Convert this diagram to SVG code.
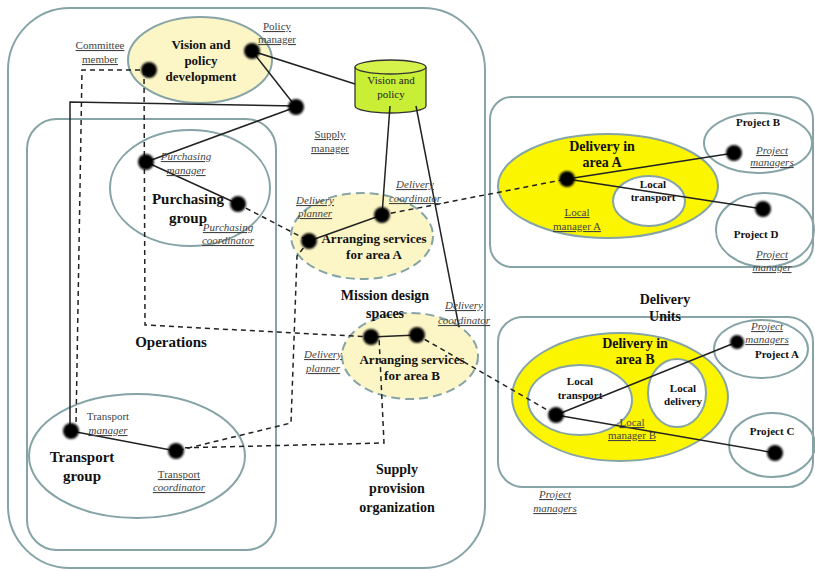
<svg xmlns="http://www.w3.org/2000/svg" width="815" height="571" viewBox="0 0 815 571">
<defs>
<filter id="glow" x="-50%" y="-50%" width="200%" height="200%"><feGaussianBlur stdDeviation="1.2"/></filter>
<style>
.ct{fill:none;stroke:#86a4a6;stroke-width:2}
.el{stroke:#86a4a6;stroke-width:2}
.ly{fill:#fcf6c6}
.by{fill:#fcf500}
.wh{fill:#fff}
.dsh{stroke-dasharray:9 5}
.ln{stroke:#222;stroke-width:1.5;fill:none}
.dl{stroke:#222;stroke-width:1.5;fill:none;stroke-dasharray:5 4}
.dot{fill:#000;filter:url(#glow)}
text{font-family:"Liberation Serif","Times New Roman",serif;text-anchor:middle}
.b{font-weight:bold;fill:#111}
.u{font-size:11px;fill:#444;text-decoration:underline}
.i{font-style:italic}
</style>
</defs>

<g id="containers">
<rect id="supply-provision" class="ct" x="8" y="8" width="477" height="560" rx="62"/>
<rect id="operations" class="ct" x="27" y="119" width="249" height="431" rx="30"/>
<rect id="delivery-units-a" class="ct" x="490" y="97" width="323" height="170" rx="22"/>
<rect id="delivery-units-b" class="ct" x="498" y="317" width="315" height="170" rx="25"/>
</g>

<g id="vision-policy-development">
<ellipse class="el ly" cx="200" cy="60" rx="72" ry="43"/>
<text class="b" font-size="13" x="201" y="49">Vision and</text>
<text class="b" font-size="13" x="201" y="65">policy</text>
<text class="b" font-size="13" x="201" y="81">development</text>
</g>

<g id="purchasing-group">
<ellipse class="el" fill="none" cx="190" cy="188" rx="80" ry="58"/>
<text class="b" font-size="15" x="188" y="204">Purchasing</text>
<text class="b" font-size="15" x="188" y="223">group</text>
</g>

<g id="transport-group">
<ellipse class="el" fill="none" cx="137" cy="456" rx="108" ry="62"/>
<text class="b" font-size="15" x="82" y="462">Transport</text>
<text class="b" font-size="15" x="82" y="481">group</text>
</g>

<g id="vision-policy-store">
<path d="M355,67 L355,106 A35.5,7 0 0 0 426,106 L426,67" fill="#c8ee36" stroke="#333" stroke-width="1.3"/>
<ellipse cx="390.5" cy="67" rx="35.5" ry="7" fill="#d4f24a" stroke="#333" stroke-width="1.3"/>
<text font-size="11" fill="#222" x="391" y="84">Vision and</text>
<text font-size="11" fill="#222" x="391" y="98">policy</text>
</g>

<g id="arranging-a">
<ellipse class="el ly dsh" cx="362" cy="236" rx="71" ry="43"/>
<text class="b" font-size="13" x="374" y="243">Arranging services</text>
<text class="b" font-size="13" x="374" y="259">for area A</text>
</g>

<g id="arranging-b">
<ellipse class="el ly dsh" cx="410" cy="356" rx="68" ry="43"/>
<text class="b" font-size="13" x="412" y="364">Arranging services</text>
<text class="b" font-size="13" x="412" y="380">for area B</text>
</g>

<g id="delivery-area-a">
<ellipse class="el by" cx="608" cy="186" rx="110" ry="52"/>
<text class="b" font-size="14" x="602" y="151">Delivery in</text>
<text class="b" font-size="14" x="602" y="167">area A</text>
<ellipse class="el wh" cx="649" cy="201" rx="36" ry="25"/>
<text class="b" font-size="11" x="653" y="188">Local</text>
<text class="b" font-size="11" x="653" y="201">transport</text>
</g>

<g id="project-b">
<ellipse class="el" fill="none" cx="758" cy="143" rx="54" ry="30"/>
<text class="b" font-size="11" x="758" y="126">Project B</text>
</g>
<g id="project-d">
<ellipse class="el" fill="none" cx="765" cy="230" rx="49" ry="37"/>
<text class="b" font-size="11" x="756" y="238">Project D</text>
</g>

<g id="delivery-area-b">
<ellipse class="el by" cx="620" cy="397" rx="108" ry="64"/>
<text class="b" font-size="14" x="635" y="348">Delivery in</text>
<text class="b" font-size="14" x="635" y="364">area B</text>
<ellipse class="el wh" cx="580" cy="400" rx="52" ry="35"/>
<text class="b" font-size="11" x="580" y="385">Local</text>
<text class="b" font-size="11" x="580" y="399">transport</text>
<ellipse class="el wh" cx="677" cy="393" rx="29" ry="34"/>
<text class="b" font-size="11" x="683" y="392">Local</text>
<text class="b" font-size="11" x="683" y="405">delivery</text>
</g>

<g id="project-a">
<ellipse class="el" fill="none" cx="761" cy="349" rx="47" ry="29"/>
<text class="b" font-size="11" x="777" y="358">Project A</text>
</g>
<g id="project-c">
<ellipse class="el" fill="none" cx="772" cy="445" rx="43" ry="32"/>
<text class="b" font-size="11" x="772" y="435">Project C</text>
</g>

<g id="connectors">
<line class="ln" x1="252" y1="51" x2="355" y2="84"/>
<line class="ln" x1="252" y1="51" x2="296" y2="107"/>
<line class="ln" x1="296" y1="107" x2="146" y2="162"/>
<polyline class="ln" points="296,106 70,102 70,431"/>
<line class="ln" x1="146" y1="162" x2="238" y2="204"/>
<line class="ln" x1="390" y1="106" x2="382" y2="215"/>
<line class="ln" x1="416" y1="106" x2="459" y2="327"/>
<line class="ln" x1="309" y1="241" x2="382" y2="215"/>
<line class="ln" x1="371" y1="337" x2="417" y2="335"/>
<line class="ln" x1="71" y1="431" x2="176" y2="451"/>
<line class="ln" x1="567" y1="179" x2="734" y2="153"/>
<line class="ln" x1="567" y1="179" x2="763" y2="209"/>
<line class="ln" x1="556" y1="415" x2="737" y2="342"/>
<line class="ln" x1="556" y1="415" x2="775" y2="453"/>
<polyline class="dl" points="149,70 82,70 76,425"/>
<polyline class="dl" points="144,70 145,325 371,337"/>
<polyline class="dl" points="309,241 297,256 291,423 176,451"/>
<polyline class="dl" points="176,448 384,443 379,337"/>
<line class="dl" x1="238" y1="204" x2="309" y2="241"/>
<line class="dl" x1="382" y1="215" x2="567" y2="179"/>
<line class="dl" x1="417" y1="335" x2="556" y2="415"/>
</g>

<g id="actors">
<circle class="dot" cx="149" cy="70" r="8"/>
<circle class="dot" cx="252" cy="51" r="8"/>
<circle class="dot" cx="296" cy="107" r="8"/>
<circle class="dot" cx="146" cy="162" r="8"/>
<circle class="dot" cx="238" cy="204" r="8"/>
<circle class="dot" cx="309" cy="241" r="8"/>
<circle class="dot" cx="382" cy="215" r="8"/>
<circle class="dot" cx="371" cy="337" r="8"/>
<circle class="dot" cx="417" cy="335" r="8"/>
<circle class="dot" cx="71" cy="431" r="8"/>
<circle class="dot" cx="176" cy="451" r="8"/>
<circle class="dot" cx="567" cy="179" r="8"/>
<circle class="dot" cx="734" cy="153" r="8"/>
<circle class="dot" cx="763" cy="209" r="8"/>
<circle class="dot" cx="556" cy="415" r="8"/>
<circle class="dot" cx="737" cy="342" r="7"/>
<circle class="dot" cx="775" cy="453" r="8"/>
</g>

<g id="labels">
<text class="u" x="100" y="49">Committee</text>
<text class="u" x="100" y="63">member</text>
<text class="u" x="277" y="30">Policy</text>
<text class="u" x="277" y="43">manager</text>
<text class="u" x="330" y="138">Supply</text>
<text class="u" x="330" y="152">manager</text>
<text class="u i" x="186" y="160">Purchasing</text>
<text class="u i" x="186" y="174">manager</text>
<text class="u i" x="228" y="231">Purchasing</text>
<text class="u i" x="228" y="244">coordinator</text>
<text class="u i" x="315" y="204">Delivery</text>
<text class="u i" x="315" y="217">planner</text>
<text class="u i" x="415" y="188">Delivery</text>
<text class="u i" x="415" y="202">coordinator</text>
<text class="b" font-size="14" x="385" y="300">Mission design</text>
<text class="b" font-size="14" x="385" y="318">spaces</text>
<text class="u i" x="464" y="309">Delivery</text>
<text class="u i" x="464" y="324">coordinator</text>
<text class="u i" x="323" y="358">Delivery</text>
<text class="u i" x="323" y="372">planner</text>
<text class="b" font-size="15" x="171" y="347">Operations</text>
<text font-size="11" fill="#444" x="108" y="420">Transport</text>
<text class="u i" x="108" y="434">manager</text>
<text class="u" x="179" y="478">Transport</text>
<text class="u i" x="179" y="491">coordinator</text>
<text class="b" font-size="14" x="397" y="474">Supply</text>
<text class="b" font-size="14" x="397" y="493">provision</text>
<text class="b" font-size="14" x="397" y="512">organization</text>
<text class="u" x="577" y="216" fill="#555">Local</text>
<text class="u" x="577" y="230" fill="#555">manager A</text>
<text class="u i" x="772" y="154">Project</text>
<text class="u i" x="772" y="166">managers</text>
<text class="u i" x="772" y="258">Project</text>
<text class="u i" x="772" y="271">manager</text>
<text class="b" font-size="14" x="665" y="304">Delivery</text>
<text class="b" font-size="14" x="665" y="321">Units</text>
<text class="u i" x="767" y="330">Project</text>
<text class="u i" x="767" y="343">managers</text>
<text class="u" x="632" y="426" fill="#555">Local</text>
<text class="u" x="632" y="439" fill="#555">manager B</text>
<text class="u i" x="555" y="498">Project</text>
<text class="u i" x="555" y="512">managers</text>
</g>
</svg>
